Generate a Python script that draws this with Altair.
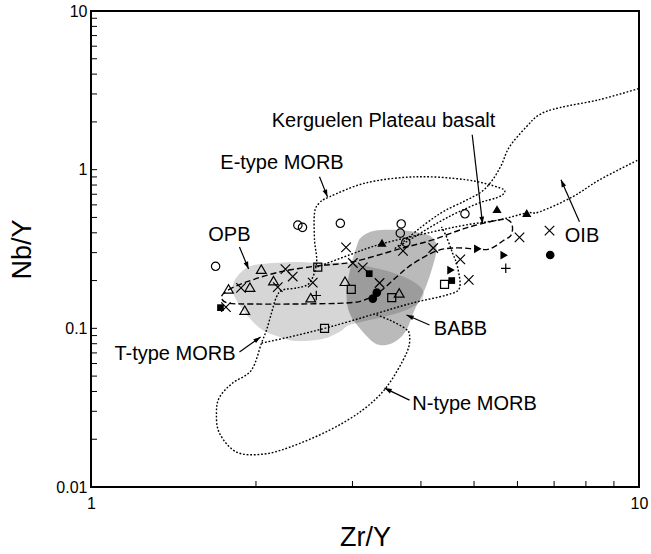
import math
import altair as alt
import pandas as pd

W, H = 548, 476
FONT = "Liberation Sans"

# ---------------- sample symbols (Zr/Y, Nb/Y) ----------------
open_circle_zr = [1.688, 2.385, 2.432, 2.851, 3.682, 3.668, 3.754, 4.813]
open_circle_nb = [0.246, 0.447, 0.433, 0.459, 0.455, 0.398, 0.348, 0.527]
open_tri_zr = [2.045, 2.153, 1.782, 1.950, 1.908, 2.518, 2.907, 3.651]
open_tri_nb = [0.236, 0.200, 0.177, 0.182, 0.130, 0.156, 0.198, 0.167]
cross_zr = [2.264, 2.334, 2.192, 1.878, 1.763, 2.539, 2.920, 3.005, 3.133, 3.362,
            3.710, 4.212, 4.720, 4.891, 6.052, 6.866]
cross_nb = [0.236, 0.212, 0.182, 0.180, 0.136, 0.194, 0.324, 0.258, 0.242, 0.193,
            0.308, 0.321, 0.272, 0.202, 0.374, 0.413]
open_sq_zr = [2.593, 2.668, 2.985, 3.538, 4.417]
open_sq_nb = [0.243, 0.100, 0.176, 0.156, 0.189]
plus_zr = [2.577, 5.713]
plus_nb = [0.161, 0.239]
fill_circle_zr = [3.323, 3.268, 6.886]
fill_circle_nb = [0.168, 0.154, 0.290]
fill_tri_zr = [3.396, 5.507, 6.239]
fill_tri_nb = [0.346, 0.564, 0.534]
fill_tri_right_zr = [5.080, 5.675, 4.539]
fill_tri_right_nb = [0.317, 0.289, 0.233]
fill_sq_zr = [1.723, 3.219, 4.553]
fill_sq_nb = [0.135, 0.221, 0.200]

# ---------------- shaded fields ----------------
opb_zr = [1.835, 1.921, 2.047, 2.371, 2.612, 2.926, 3.361, 3.733, 3.976, 4.044, 3.894,
          3.579, 3.223, 2.963, 2.841, 2.645, 2.371, 2.208, 2.056, 1.945, 1.851, 1.813]
opb_nb = [0.2047, 0.2403, 0.2546, 0.2622, 0.2584, 0.2584, 0.2368, 0.2108, 0.1849, 0.1599, 0.1383,
          0.1231, 0.1128, 0.1049, 0.0948, 0.0856, 0.0831, 0.0882, 0.0976, 0.1161, 0.1466, 0.1745]
babb_zr = [3.051, 3.116, 3.291, 3.579, 3.894, 4.182, 4.271, 4.200, 4.061, 3.894, 3.765,
           3.625, 3.461, 3.291, 3.090, 2.963, 2.926, 2.963]
babb_nb = [0.3260, 0.3770, 0.4115, 0.4175, 0.4055, 0.3770, 0.3213, 0.2438, 0.1745, 0.1305, 0.0976,
           0.0844, 0.0785, 0.0808, 0.1004, 0.1249, 0.1622, 0.2266]

# ---------------- Kerguelen Plateau basalt (dashed) ----------------
kerg_zr = [1.730, 1.782, 1.921, 2.208, 2.590, 3.000, 3.656, 4.200, 4.844, 5.566, 5.804, 5.878,
           5.829, 5.683, 5.337, 5.010, 4.645, 4.271, 3.861, 3.610, 3.361, 3.155, 2.926, 2.402,
           1.945, 1.774]
kerg_nb = [0.1576, 0.1745, 0.1960, 0.2266, 0.2474, 0.2622, 0.3167, 0.3609, 0.430, 0.483, 0.476,
           0.430, 0.3825, 0.3609, 0.3167, 0.3167, 0.3213, 0.3076, 0.2546, 0.2108, 0.1695, 0.1509,
           0.1445, 0.1424, 0.1424, 0.1445]

# ---------------- dotted field boundaries ----------------
emorb_nmorb_zr = [3.656, 3.813, 4.027, 4.324, 4.645, 5.117, 5.495, 5.683, 5.566, 4.844, 3.926,
                  3.182, 2.724, 2.612, 2.558, 2.558, 2.580, 2.505, 2.371, 2.236, 2.180, 2.135,
                  2.091, 2.047, 1.962, 1.813, 1.716, 1.694, 1.716, 1.843, 2.056, 2.303, 2.724,
                  3.129, 3.461, 3.765, 3.813, 3.733, 3.505, 3.291]
emorb_nmorb_nb = [0.3308, 0.3609, 0.4055, 0.469, 0.534, 0.618, 0.665, 0.715, 0.769, 0.863, 0.902,
                  0.827, 0.674, 0.618, 0.534, 0.3609, 0.2584, 0.1932, 0.1797, 0.1745, 0.1576, 0.1249,
                  0.0976, 0.0808, 0.0545, 0.0452, 0.0368, 0.0292, 0.0218, 0.0166, 0.0161, 0.0178, 0.0228,
                  0.0305, 0.0426, 0.0698, 0.0907, 0.1004, 0.1128, 0.1231]
tmorb_low_zr = [2.047, 2.303, 2.724, 3.291, 3.861, 4.454, 4.704, 4.665, 4.568, 4.454, 4.361]
tmorb_low_nb = [0.0808, 0.0882, 0.1019, 0.1231, 0.1445, 0.1622, 0.1797, 0.2438, 0.2988, 0.3770, 0.436]
upper_zr = [2.590, 2.963, 3.389, 4.200, 4.844, 5.566, 6.233, 6.583, 7.561, 8.472, 9.98]
upper_nb = [0.2438, 0.2903, 0.3405, 0.4055, 0.449, 0.483, 0.534, 0.542, 0.674, 0.863, 1.155]
oib_top_zr = [9.98, 8.472, 7.160, 6.583, 6.233, 5.804, 5.612, 5.405, 5.160, 4.814, 4.417, 4.147,
              3.926, 3.733, 3.579]
oib_top_nb = [3.241, 2.763, 2.459, 2.222, 1.866, 1.395, 1.074, 0.863, 0.7253, 0.6364, 0.550, 0.476,
              0.4115, 0.3557, 0.3167]

# ---------------- labels and arrows ----------------
label_text = ["Kerguelen Plateau basalt", "E-type MORB", "OPB", "T-type MORB", "BABB",
              "N-type MORB", "OIB"]
label_zr = [3.418, 2.231, 1.789, 1.423, 4.724, 5.010, 7.870]
label_nb = [2.035, 1.098, 0.388, 0.0688, 0.0990, 0.0335, 0.3798]
arrow_from_zr = [4.962, 2.612, 1.866, 1.866, 4.147, 3.813, 7.787]
arrow_from_nb = [1.661, 0.902, 0.326, 0.0709, 0.1049, 0.0353, 0.469]
arrow_to_zr = [5.182, 2.701, 1.939, 2.039, 3.765, 3.432, 7.205]
arrow_to_nb = [0.4555, 0.674, 0.2368, 0.0882, 0.1213, 0.0420, 0.863]

x_minor_ticks = [2, 3, 4, 5, 6, 7, 8, 9]
y_ticks = [0.02, 0.03, 0.04, 0.05, 0.06, 0.07, 0.08, 0.09, 0.1,
           0.2, 0.3, 0.4, 0.5, 0.6, 0.7, 0.8, 0.9, 1,
           2, 3, 4, 5, 6, 7, 8, 9]

# ---------------- scales / axes ----------------
xs = alt.Scale(type="log", domain=[1, 10], nice=False)
ys = alt.Scale(type="log", domain=[0.01, 10], nice=False)
common_axis = dict(ticks=False, domain=False, grid=False, labelFlush=False,
                   labelFontSize=16, labelFont=FONT, labelColor="black",
                   titleFont=FONT, titleFontSize=27, titleFontWeight="normal",
                   titleColor="black", format="~g")
x_axis = alt.Axis(values=[1, 10], labelPadding=8, title="Zr/Y", titleY=58,
                  titleBaseline="alphabetic", **common_axis)
y_axis = alt.Axis(values=[0.01, 0.1, 1, 10], labelPadding=4, title="Nb/Y", titleX=-69,
                  titleBaseline="middle", **common_axis)


def X(f):
    return alt.X(f"{f}:Q", scale=xs, axis=x_axis)


def Y(f):
    return alt.Y(f"{f}:Q", scale=ys, axis=y_axis)


def seq_df(zr, nb, name="a"):
    return pd.DataFrame({"name": name, "i": list(range(len(zr))), "zr": zr, "nb": nb})


layers = []

# shaded fields
for zr, nb, op in [(opb_zr, opb_nb, 0.16), (babb_zr, babb_nb, 0.27)]:
    layers.append(
        alt.Chart(seq_df(zr, nb)).mark_line(
            interpolate="cardinal-closed", fill="black", fillOpacity=op,
            strokeOpacity=0, clip=True
        ).encode(x=X("zr"), y=Y("nb"), order="i:Q")
    )

# dotted boundaries
dotted = pd.concat([
    seq_df(emorb_nmorb_zr, emorb_nmorb_nb, "l1"),
    seq_df(tmorb_low_zr, tmorb_low_nb, "l2"),
    seq_df(upper_zr, upper_nb, "l3"),
    seq_df(oib_top_zr, oib_top_nb, "l4"),
])
layers.append(
    alt.Chart(dotted).mark_line(
        interpolate="cardinal", color="black", strokeWidth=1.4, strokeDash=[1.8, 1.8], clip=True
    ).encode(x=X("zr"), y=Y("nb"), detail="name:N", order="i:Q")
)

# Kerguelen dashed loop
layers.append(
    alt.Chart(seq_df(kerg_zr, kerg_nb)).mark_line(
        interpolate="cardinal-closed", color="black", strokeWidth=1.4, strokeDash=[6, 3], clip=True
    ).encode(x=X("zr"), y=Y("nb"), order="i:Q")
)

# arrows
arrow_rows = []
head_rows = []
for k in range(len(arrow_from_zr)):
    arrow_rows.append({"name": f"a{k}", "i": 0, "zr": arrow_from_zr[k], "nb": arrow_from_nb[k]})
    arrow_rows.append({"name": f"a{k}", "i": 1, "zr": arrow_to_zr[k], "nb": arrow_to_nb[k]})
    dx = (math.log10(arrow_to_zr[k]) - math.log10(arrow_from_zr[k])) * W
    dy = -(math.log10(arrow_to_nb[k]) - math.log10(arrow_from_nb[k])) * H / 3
    ang = math.degrees(math.atan2(dx, -dy)) % 360
    head_rows.append({"zr": arrow_to_zr[k], "nb": arrow_to_nb[k], "ang": ang})
layers.append(
    alt.Chart(pd.DataFrame(arrow_rows)).mark_line(color="black", strokeWidth=1.2).encode(
        x=X("zr"), y=Y("nb"), detail="name:N", order="i:Q")
)
layers.append(
    alt.Chart(pd.DataFrame(head_rows)).mark_point(
        shape="M0,0L-0.8,2.4L0.8,2.4Z", filled=True, color="black", size=36, opacity=1
    ).encode(x=X("zr"), y=Y("nb"), angle=alt.Angle("ang:Q", scale=None))
)

# symbols
CROSS = "M-1,-1L1,1M-1,1L1,-1"
PLUS = "M-1,0L1,0M0,-1L0,1"
sym_specs = [
    (open_circle_zr, open_circle_nb, "circle", False, 70),
    (open_tri_zr, open_tri_nb, "triangle-up", False, 95),
    (cross_zr, cross_nb, CROSS, False, 90),
    (open_sq_zr, open_sq_nb, "square", False, 64),
    (plus_zr, plus_nb, PLUS, False, 90),
    (fill_circle_zr, fill_circle_nb, "circle", True, 75),
    (fill_tri_zr, fill_tri_nb, "triangle-up", True, 85),
    (fill_tri_right_zr, fill_tri_right_nb, "triangle-right", True, 75),
    (fill_sq_zr, fill_sq_nb, "square", True, 45),
]
for zr, nb, shape, filled, size in sym_specs:
    layers.append(
        alt.Chart(seq_df(zr, nb)).mark_point(
            shape=shape, filled=filled, color="black", size=size, opacity=1,
            strokeWidth=1.2
        ).encode(x=X("zr"), y=Y("nb"))
    )

# labels
layers.append(
    alt.Chart(pd.DataFrame({"t": label_text, "zr": label_zr, "nb": label_nb})).mark_text(
        font=FONT, fontSize=20, color="black", align="center", baseline="middle"
    ).encode(x=X("zr"), y=Y("nb"), text="t:N")
)

# inward ticks
layers.append(
    alt.Chart(pd.DataFrame({"v": x_minor_ticks})).mark_rule(color="black", strokeWidth=1).encode(
        x=X("v"), y=alt.value(H), y2=alt.value(H - 6))
)
layers.append(
    alt.Chart(pd.DataFrame({"v": y_ticks})).mark_rule(color="black", strokeWidth=1).encode(
        y=Y("v"), x=alt.value(0), x2=alt.value(6))
)

chart = alt.layer(*layers).properties(
    width=W, height=H,
    padding={"left": 91, "top": 11, "right": 12, "bottom": 67},
    autosize=alt.AutoSizeParams(type="none"),
    background="white",
).configure_view(stroke="black", strokeWidth=2)

chart.save("out.html", embed_options={"renderer": "svg", "actions": False})
